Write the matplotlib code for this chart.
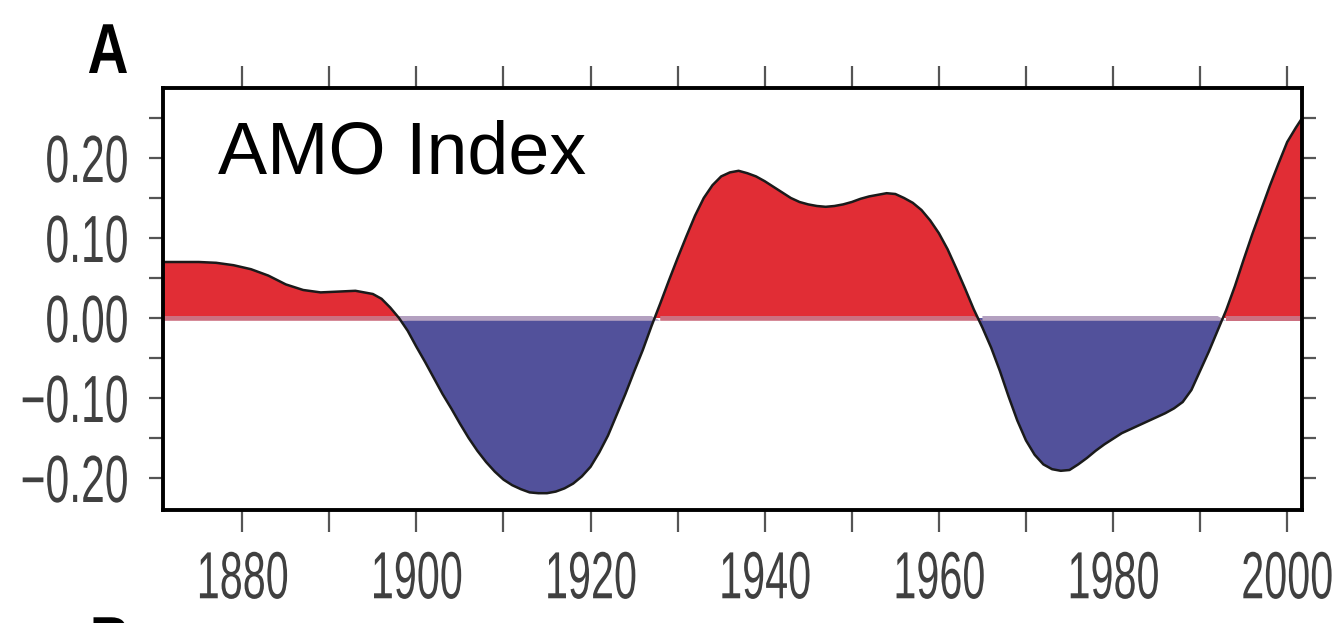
import matplotlib
matplotlib.use("Agg")
import matplotlib.pyplot as plt
from matplotlib.ticker import MultipleLocator, FixedLocator
from matplotlib.patheffects import AbstractPathEffect
from matplotlib.transforms import Affine2D
import numpy as np

# AMO index
years = [1871, 1873, 1875, 1877, 1879, 1881, 1883, 1885, 1887, 1889,
         1891, 1893, 1895, 1896, 1897, 1898, 1899, 1900, 1901, 1902,
         1903, 1904, 1905, 1906, 1907, 1908, 1909, 1910, 1911, 1912,
         1913, 1914, 1915, 1916, 1917, 1918, 1919, 1920, 1921, 1922,
         1923, 1924, 1925, 1926, 1927, 1928, 1929, 1930, 1931, 1932,
         1933, 1934, 1935, 1936, 1937, 1938, 1939, 1940, 1941, 1942,
         1943, 1944, 1945, 1946, 1947, 1948, 1949, 1950, 1951, 1952,
         1953, 1954, 1955, 1956, 1957, 1958, 1959, 1960, 1961, 1962,
         1963, 1964, 1965, 1966, 1967, 1968, 1969, 1970, 1971, 1972,
         1973, 1974, 1975, 1976, 1977, 1978, 1979, 1980, 1981, 1982,
         1983, 1984, 1985, 1986, 1987, 1988, 1989, 1990, 1991, 1992,
         1993, 1994, 1995, 1996, 1997, 1998, 1999, 2000, 2001, 2001.6]
amo = [0.070, 0.070, 0.070, 0.069, 0.066, 0.061, 0.053, 0.042, 0.035, 0.032,
       0.033, 0.034, 0.030, 0.024, 0.013, 0.000, -0.016, -0.036, -0.055, -0.075,
       -0.095, -0.113, -0.132, -0.150, -0.166, -0.180, -0.192, -0.202, -0.209, -0.214,
       -0.218, -0.219, -0.219, -0.217, -0.213, -0.207, -0.198, -0.186, -0.168, -0.147,
       -0.121, -0.095, -0.067, -0.040, -0.010, 0.018, 0.047, 0.075, 0.102, 0.128,
       0.150, 0.166, 0.177, 0.182, 0.184, 0.181, 0.177, 0.171, 0.164, 0.157,
       0.150, 0.145, 0.142, 0.140, 0.139, 0.140, 0.142, 0.145, 0.149, 0.152,
       0.154, 0.156, 0.155, 0.150, 0.144, 0.135, 0.122, 0.106, 0.086, 0.062,
       0.037, 0.011, -0.012, -0.037, -0.066, -0.098, -0.128, -0.153, -0.171, -0.183,
       -0.189, -0.191, -0.190, -0.183, -0.175, -0.166, -0.158, -0.151, -0.144, -0.139,
       -0.134, -0.129, -0.124, -0.119, -0.113, -0.105, -0.090, -0.066, -0.042, -0.016,
       0.010, 0.040, 0.073, 0.105, 0.135, 0.165, 0.193, 0.220, 0.238, 0.248]

yticks = [-0.20, -0.10, 0.00, 0.10, 0.20]
ytick_labels = ["\u22120.20", "\u22120.10", "0.00", "0.10", "0.20"]
xticks = [1880, 1900, 1920, 1940, 1960, 1980, 2000]


class Squeeze(AbstractPathEffect):
    # the original uses a very narrow face, so squash the glyphs sideways
    def __init__(self, sx, pivot="center"):
        super().__init__()
        self.sx = sx
        self.pivot = pivot

    def draw_path(self, renderer, gc, tpath, affine, rgbFace=None):
        ext = tpath.get_extents()
        px = {"left": ext.x0, "right": ext.x1, "center": (ext.x0 + ext.x1) / 2}[self.pivot]
        sq = Affine2D().translate(-px, 0).scale(self.sx, 1).translate(px, 0)
        renderer.draw_path(gc, tpath, sq + affine, rgbFace)


font = ["Liberation Sans", "DejaVu Sans"]

x = np.array(years)
y = np.array(amo)

fig = plt.figure(figsize=(13.39, 6.23), dpi=100)
ax = fig.add_axes([163 / 1339, 1 - 510 / 623, 1139 / 1339, 422 / 623])

ax.fill_between(x, 0, y, where=y >= 0, interpolate=True, color="#e12d35", lw=0)
ax.fill_between(x, 0, y, where=y <= 0, interpolate=True, color="#52519b", lw=0)
# zero line band, pink under the warm part and lavender over the cold part
ax.fill_between(x, -0.0035, 0.0025, where=y >= 0, interpolate=True, color="#cc7080", lw=0)
ax.fill_between(x, -0.0035, 0.0025, where=y <= 0, interpolate=True, color="#b3a0c0", lw=0)
ax.plot(x, y, color="#1a1a1a", lw=1.8)

ax.set_xlim(1870.9, 2001.7)
ax.set_ylim(-0.24, 0.2875)

ax.xaxis.set_major_locator(FixedLocator(xticks))
ax.xaxis.set_minor_locator(MultipleLocator(10))
ax.yaxis.set_major_locator(FixedLocator(yticks))
ax.yaxis.set_minor_locator(MultipleLocator(0.05))
ax.set_yticklabels(ytick_labels)

for s in ax.spines.values():
    s.set_linewidth(2.8)

ax.tick_params(axis="x", which="both", direction="out", length=16, width=1.6,
               color="#555555", top=True, pad=13, labelsize=48, labelcolor="#404040")
ax.tick_params(axis="y", which="both", direction="out", length=10, width=1.6,
               color="#555555", right=True, pad=14, labelsize=48, labelcolor="#404040")
for lab in ax.get_xticklabels():
    lab.set_family(font)
    lab.set_path_effects([Squeeze(0.62, "center")])
for lab in ax.get_yticklabels():
    lab.set_family(font)
    lab.set_path_effects([Squeeze(0.64, "right")])

ax.text((218 - 163) / 1139, (510 - 173) / 422, "AMO Index",
        transform=ax.transAxes, fontsize=53, family=font,
        va="baseline", ha="left", color="black")

fig.text(108 / 1339, 1 - 73 / 623, "A", fontsize=51, fontweight="bold", family=font,
         ha="center", va="baseline", path_effects=[Squeeze(0.8, "center")])
fig.text(110 / 1339, 1 - 666 / 623, "B", fontsize=51, fontweight="bold", family=font,
         ha="center", va="baseline", path_effects=[Squeeze(0.8, "center")])

fig.savefig("out.png", dpi=100)
